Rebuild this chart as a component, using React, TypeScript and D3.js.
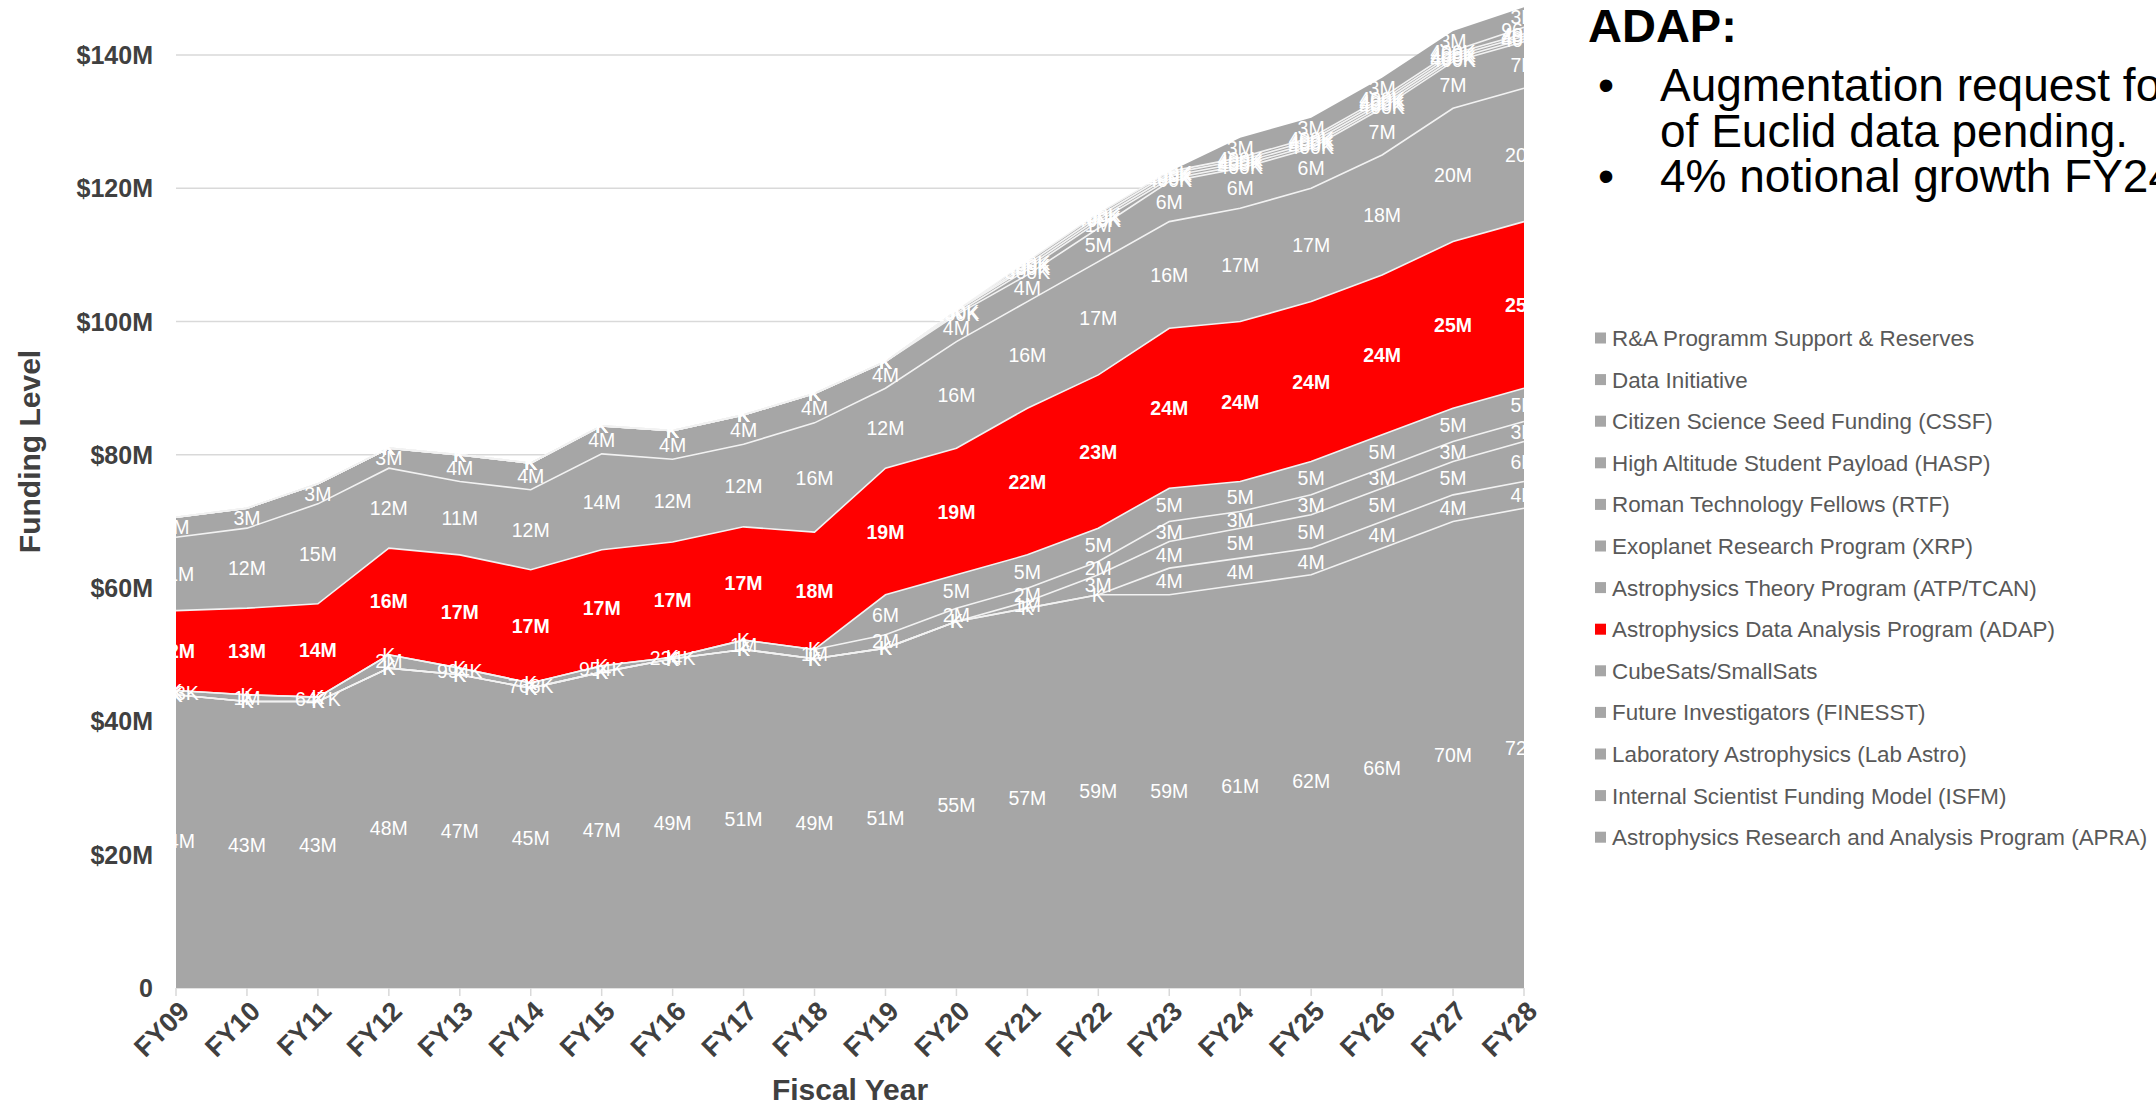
import * as d3 from "d3";

const years = ["FY09", "FY10", "FY11", "FY12", "FY13", "FY14", "FY15", "FY16", "FY17", "FY18",
  "FY19", "FY20", "FY21", "FY22", "FY23", "FY24", "FY25", "FY26", "FY27", "FY28"];

// values in $M, bottom of the stack first; null = blank cell (no label)
const apra = [44, 43, 43, 48, 47, 45, 47.4, 49.4, 50.8, 49.4, 51, 55, 57, 59, 59, 60.5, 62, 66, 70, 72];
const isfm = [0, 0, 0, 0, 0, 0, 0, 0, 0, 0, 0, 0, 0, 0, 4, 4, 4, 4, 4, 4];
const labAstro = [0, 0, 0, 0, 0, 0, 0, 0, 0, 0, 0, 0, 1, 3, 4, 4.5, 5, 5, 5, 6];
const finesst = [0.633, 1, 0.647, 2, 0.994, 0.768, 0.954, 0.234, 1.4, 1.4, 2, 2, 2, 2, 3, 2.5, 3, 3, 3, 3];
const cubeSats = [0, 0, 0, 0, 0, 0, 0, 0, 0, 0, 6, 5, 5, 5, 5, 4.5, 5, 5, 5, 5];
const adap = [12, 13, 14, 16, 17, 17, 17.4, 17.3, 17, 17.6, 19, 19, 22, 23, 24, 24, 24, 24, 25, 25];
const atp = [11, 12, 15, 12, 11, 12, 14.4, 12.4, 12.4, 16.4, 12, 16, 16, 17, 16, 17, 17, 18, 20, 20];
const xrp = [3, 3, 3, 3, 4, 4, 4.2, 4.3, 4.4, 4.4, 4, 4, 4, 5, 6, 6, 6, 7, 7, 7];
const rtf = [null, null, null, 0, 0, 0, 0, 0, 0, 0, 0, 0.25, 0.8, 1, 0.4, 0.4, 0.4, 0.4, 0.4, 0.4];
const hasp = [null, null, null, 0, 0, 0, 0, 0, 0, 0, 0, 0.35, 0.4, 0.4, 0.4, 0.4, 0.4, 0.4, 0.4, 0.4];
const cssf = [null, null, null, 0, 0, 0, 0, 0, 0, 0, 0, 0, 0.4, 0.4, 0.4, 0.4, 0.4, 0.4, 0.4, 0.4];
const dataInit = [null, null, null, 0, 0, 0, 0, 0, 0, 0, 0, 0, 0.4, 0.4, 0.3, 0.4, 0.4, 0.4, 0.4, 0.96];
const support = [null, null, null, 0, 0, 0, 0, 0, 0, 0, 0, 0, 0, 0, 0, 3, 3, 3, 3, 3];

const series = [
  { key: "apra", name: "Astrophysics Research and Analysis Program (APRA)", values: apra },
  { key: "isfm", name: "Internal Scientist Funding Model (ISFM)", values: isfm },
  { key: "lab", name: "Laboratory Astrophysics (Lab Astro)", values: labAstro },
  { key: "finesst", name: "Future Investigators (FINESST)", values: finesst },
  { key: "cube", name: "CubeSats/SmallSats", values: cubeSats },
  { key: "adap", name: "Astrophysics Data Analysis Program (ADAP)", values: adap },
  { key: "atp", name: "Astrophysics Theory Program (ATP/TCAN)", values: atp },
  { key: "xrp", name: "Exoplanet Research Program (XRP)", values: xrp },
  { key: "rtf", name: "Roman Technology Fellows (RTF)", values: rtf },
  { key: "hasp", name: "High Altitude Student Payload (HASP)", values: hasp },
  { key: "cssf", name: "Citizen Science Seed Funding (CSSF)", values: cssf },
  { key: "data", name: "Data Initiative", values: dataInit },
  { key: "support", name: "R&A Programm Support & Reserves", values: support },
];

const yTicks = [0, 20, 40, 60, 80, 100, 120, 140];

const GREY = "#a6a6a6";
const RED = "#ff0000";
const FONT = "'Liberation Sans', Arial, sans-serif";

const fmt = (v: number) => (v >= 1 ? `${Math.round(v)}M` : v === 0 ? "K" : `${Math.round(v * 1000)}K`);

export default function App() {
  const left = 176, right = 1524, bottom = 988, top = 55;

  const table = years.map((year, i) => {
    const row: any = { year };
    series.forEach((s) => (row[s.key] = s.values[i] ?? 0));
    return row;
  });
  const stacked = d3.stack<any>().keys(series.map((s) => s.key))(table);

  const x = d3.scalePoint<string>().domain(years).range([left, right]);
  const y = d3.scaleLinear().domain([0, 140]).range([bottom, top]);

  const area = d3
    .area<any>()
    .x((d) => x(d.data.year)!)
    .y0((d) => y(d[0]))
    .y1((d) => y(d[1]));
  const topLine = d3
    .line<any>()
    .x((d) => x(d.data.year)!)
    .y((d) => y(d[1]));

  const legend = [...series].reverse();

  return (
    <>
      <style>{`body{margin:0}`}</style>
      <svg width={2156} height={1114} style={{ display: "block", fontFamily: FONT }}>
        <defs>
          <clipPath id="plot">
            <rect x={left} y={0} width={right - left} height={bottom} />
          </clipPath>
        </defs>

        {/* gridlines */}
        {yTicks.map((t) => (
          <line key={t} x1={left} x2={right} y1={y(t)} y2={y(t)} stroke="#d9d9d9" strokeWidth={1.5} />
        ))}
        {years.map((yr) => (
          <line key={yr} x1={x(yr)} x2={x(yr)} y1={bottom} y2={bottom + 8} stroke="#d9d9d9" strokeWidth={1.5} />
        ))}

        {/* areas */}
        {stacked.map((s, i) => (
          <path key={s.key} d={area(s) ?? ""} fill={series[i].key === "adap" ? RED : GREY} />
        ))}
        {stacked.map((s, i) =>
          i === stacked.length - 1 ? null : (
            <path key={s.key} d={topLine(s) ?? ""} fill="none" stroke="#f2f2f2" strokeWidth={1.6} />
          )
        )}

        {/* data labels */}
        <g clipPath="url(#plot)">
          {stacked.map((s, i) =>
            s.map((d, j) => {
              const v = series[i].values[j];
              if (v == null) return null;
              const bold = series[i].key === "adap";
              return (
                <text
                  key={`${s.key}-${j}`}
                  x={x(years[j])}
                  y={y((d[0] + d[1]) / 2)}
                  dy="0.36em"
                  textAnchor="middle"
                  fill="#ffffff"
                  fontSize={19.5}
                  fontWeight={bold ? "bold" : "normal"}
                >
                  {fmt(v)}
                </text>
              );
            })
          )}
        </g>

        {/* y axis */}
        {yTicks.map((t) => (
          <text key={t} x={153} y={y(t)} dy="0.36em" textAnchor="end" fontSize={25} fontWeight="bold" fill="#404040">
            {t === 0 ? "0" : `$${t}M`}
          </text>
        ))}
        <text
          transform={`translate(40, ${(top + bottom) / 2 - 70}) rotate(-90)`}
          textAnchor="middle"
          fontSize={30}
          fontWeight="bold"
          fill="#404040"
        >
          Funding Level
        </text>

        {/* x axis */}
        {years.map((yr) => (
          <text
            key={yr}
            transform={`translate(${x(yr)! + 8}, ${bottom + 18}) rotate(-45)`}
            textAnchor="end"
            dy="0.36em"
            fontSize={27}
            fontWeight="bold"
            fill="#404040"
          >
            {yr}
          </text>
        ))}
        <text x={(left + right) / 2} y={1100} textAnchor="middle" fontSize={30} fontWeight="bold" fill="#404040">
          Fiscal Year
        </text>

        {/* notes */}
        <text x={1588} y={42} fontSize={47} fontWeight="bold" fill="#000">ADAP:</text>
        <text x={1598} y={101} fontSize={46} fill="#000">•</text>
        <text x={1660} y={101} fontSize={46} fill="#000">Augmentation request for</text>
        <text x={1660} y={147} fontSize={46} fill="#000">of Euclid data pending.</text>
        <text x={1598} y={192} fontSize={46} fill="#000">•</text>
        <text x={1660} y={192} fontSize={46} fill="#000">4% notional growth FY24</text>

        {/* legend */}
        {legend.map((s, i) => {
          const cy = 338 + i * 41.6;
          return (
            <g key={s.key}>
              <rect x={1595} y={cy - 5.5} width={11} height={11} fill={s.key === "adap" ? RED : GREY} />
              <text x={1612} y={cy} dy="0.36em" fontSize={22.4} fill="#595959">
                {s.name}
              </text>
            </g>
          );
        })}
      </svg>
    </>
  );
}
